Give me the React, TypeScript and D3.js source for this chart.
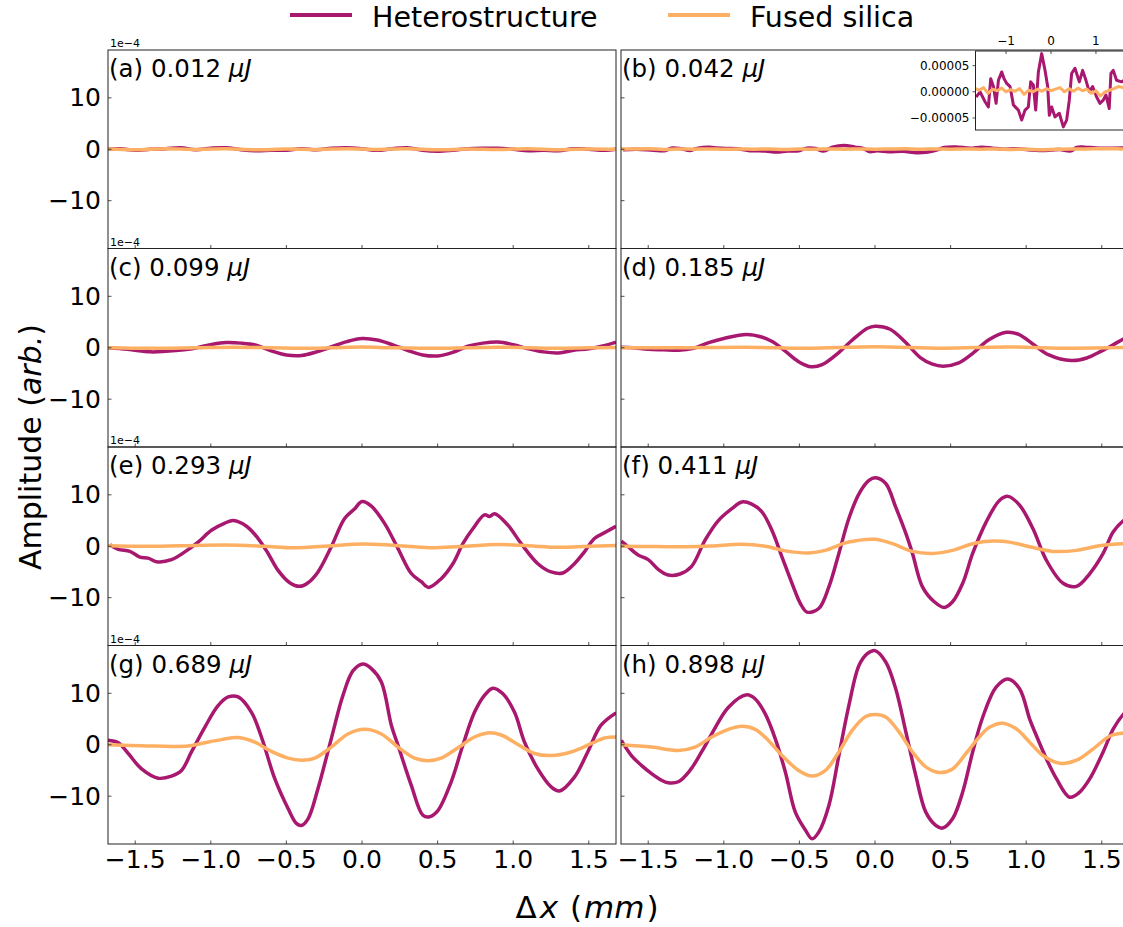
import { useEffect, useRef } from 'react';
import * as d3 from 'd3';

type Pt = [number, number];

// pulse energies / panel labels
const panelLabels = ['(a) 0.012 ', '(b) 0.042 ', '(c) 0.099 ', '(d) 0.185 ', '(e) 0.293 ', '(f) 0.411 ', '(g) 0.689 ', '(h) 0.898 '];
const xTicks = [-1.5, -1.0, -0.5, 0.0, 0.5, 1.0, 1.5];
const yTicks = [-10, 0, 10];
const insetXTicks = [-1, 0, 1];
const insetYTicks = [-0.5, 0, 0.5];

// amplitudes in units of 1e-4
const hetA: Pt[] = [[-1.68, 0], [-1.6, 0.1], [-1.5, -0.2], [-1.4, 0.0], [-1.3, 0.1], [-1.2, 0.3], [-1.1, -0.1], [-1.0, 0.2], [-0.9, 0.3], [-0.8, -0.1], [-0.7, -0.3], [-0.6, -0.2], [-0.5, -0.2], [-0.4, 0.1], [-0.3, -0.1], [-0.2, 0.2], [-0.1, 0.3], [0.0, 0.1], [0.1, -0.2], [0.2, 0.1], [0.3, 0.3], [0.4, -0.2], [0.5, -0.4], [0.6, -0.2], [0.7, 0.1], [0.8, 0.2], [0.9, 0.2], [1.0, 0.0], [1.1, -0.3], [1.2, -0.2], [1.3, -0.3], [1.4, 0.1], [1.5, 0.0], [1.6, -0.2], [1.68, 0.0]];
const fsA: Pt[] = [[-1.68, 0.05], [-1.5, -0.1], [-1.3, 0.1], [-1.1, -0.05], [-0.9, 0.1], [-0.7, -0.1], [-0.5, 0.05], [-0.3, -0.05], [-0.1, 0.1], [0.1, -0.05], [0.3, 0.1], [0.5, -0.1], [0.7, 0.05], [0.9, -0.05], [1.1, 0.1], [1.3, -0.1], [1.5, 0.05], [1.68, 0.0]];

const hetB: Pt[] = [[-1.667, -0.1], [-1.578, 0.0], [-1.467, -0.19], [-1.393, -0.29], [-1.341, 0.25], [-1.281, 0.1], [-1.222, -0.22], [-1.17, 0.22], [-1.096, 0.38], [-1.044, 0.25], [-0.985, 0.16], [-0.911, 0.1], [-0.837, -0.25], [-0.726, -0.35], [-0.652, -0.54], [-0.578, -0.35], [-0.504, -0.29], [-0.452, 0.19], [-0.393, 0.13], [-0.341, -0.35], [-0.281, 0.38], [-0.207, 0.73], [-0.133, 0.41], [-0.074, 0.1], [-0.037, -0.45], [0.015, -0.29], [0.089, -0.48], [0.185, -0.41], [0.274, -0.67], [0.348, -0.54], [0.407, -0.16], [0.459, 0.35], [0.533, 0.45], [0.63, 0.19], [0.704, 0.41], [0.778, 0.22], [0.852, 0.0], [0.926, 0.1], [1.015, -0.1], [1.089, -0.22], [1.163, -0.16], [1.222, -0.06], [1.296, -0.32], [1.333, 0.35], [1.385, 0.41], [1.459, 0.22], [1.57, 0.19], [1.68, 0.25]];
const fsB: Pt[] = [[-1.68, 0.06], [-1.6, 0.03], [-1.5, 0.08], [-1.4, -0.03], [-1.3, 0.05], [-1.2, 0.02], [-1.1, 0.07], [-1.0, 0.0], [-0.9, 0.04], [-0.8, 0.01], [-0.7, 0.06], [-0.6, -0.05], [-0.5, 0.03], [-0.4, 0.0], [-0.3, 0.05], [-0.2, 0.01], [-0.1, 0.06], [0.0, 0.02], [0.1, 0.05], [0.2, 0.08], [0.3, 0.0], [0.4, 0.06], [0.5, 0.01], [0.6, 0.07], [0.7, 0.02], [0.8, 0.05], [0.9, -0.03], [1.0, 0.02], [1.1, -0.08], [1.2, 0.0], [1.3, 0.03], [1.4, 0.06], [1.5, 0.1], [1.6, 0.08], [1.68, 0.05]];

const hetC: Pt[] = [[-1.68, 0], [-1.55, -0.3], [-1.4, -0.8], [-1.3, -0.7], [-1.15, -0.3], [-1.0, 0.6], [-0.9, 1.0], [-0.8, 0.9], [-0.7, 0.5], [-0.6, -0.6], [-0.5, -1.4], [-0.4, -1.5], [-0.3, -0.8], [-0.2, 0.2], [-0.1, 1.2], [0.0, 1.8], [0.1, 1.5], [0.2, 0.6], [0.3, -0.5], [0.4, -1.4], [0.5, -1.6], [0.6, -0.9], [0.7, 0.3], [0.8, 0.9], [0.9, 1.1], [1.0, 0.6], [1.1, -0.2], [1.2, -0.8], [1.3, -1.0], [1.4, -0.5], [1.5, -0.2], [1.6, 0.4], [1.68, 1.1]];
const fsC: Pt[] = [[-1.68, 0.0], [-1.4, -0.1], [-1.1, 0.0], [-0.85, 0.1], [-0.6, 0.0], [-0.4, -0.1], [-0.2, 0.0], [0.0, 0.15], [0.2, 0.0], [0.45, -0.1], [0.7, 0.0], [0.9, 0.1], [1.1, 0.0], [1.3, -0.1], [1.5, 0.0], [1.68, 0.05]];

const hetD: Pt[] = [[-1.68, 0.1], [-1.6, 0.0], [-1.5, -0.3], [-1.4, -0.4], [-1.3, -0.5], [-1.2, -0.1], [-1.1, 1.0], [-1.0, 1.8], [-0.85, 2.6], [-0.75, 2.1], [-0.68, 1.2], [-0.6, -0.5], [-0.5, -2.8], [-0.42, -3.7], [-0.35, -3.3], [-0.25, -1.2], [-0.15, 1.5], [-0.05, 3.8], [0.0, 4.2], [0.1, 3.6], [0.2, 1.1], [0.3, -1.9], [0.38, -3.2], [0.45, -3.6], [0.55, -3.0], [0.65, -1.0], [0.75, 1.5], [0.87, 3.0], [0.95, 2.6], [1.05, 0.6], [1.15, -1.4], [1.3, -2.5], [1.4, -2.0], [1.5, -0.6], [1.6, 1.0], [1.68, 2.3]];
const fsD: Pt[] = [[-1.68, 0.0], [-1.3, 0.0], [-0.85, 0.1], [-0.45, -0.1], [0.0, 0.2], [0.45, -0.1], [0.87, 0.15], [1.3, -0.1], [1.68, 0.05]];

const hetE: Pt[] = [[-1.667, 0.3], [-1.612, -0.6], [-1.535, -1.0], [-1.469, -2.1], [-1.414, -2.3], [-1.359, -3.0], [-1.26, -2.6], [-1.172, -1.1], [-1.084, 0.8], [-0.996, 3.1], [-0.907, 4.5], [-0.852, 5.0], [-0.764, 3.9], [-0.687, 1.5], [-0.621, -1.4], [-0.555, -4.7], [-0.478, -7.1], [-0.412, -7.8], [-0.357, -7.1], [-0.291, -5.0], [-0.203, -0.1], [-0.115, 5.4], [-0.048, 7.3], [0.0, 8.7], [0.062, 7.8], [0.15, 4.4], [0.238, -0.45], [0.326, -5.3], [0.392, -6.9], [0.441, -8.0], [0.524, -6.3], [0.601, -3.4], [0.667, 0.5], [0.733, 3.4], [0.81, 6.1], [0.844, 5.8], [0.877, 6.3], [0.965, 4.1], [1.053, 0.5], [1.163, -3.4], [1.251, -5.0], [1.328, -5.2], [1.405, -3.4], [1.471, -1.1], [1.537, 1.5], [1.615, 2.8], [1.68, 3.9]];
const fsE: Pt[] = [[-1.68, 0.1], [-1.45, 0.0], [-1.2, 0.1], [-0.9, 0.25], [-0.65, 0.0], [-0.45, -0.3], [-0.2, 0.1], [0.0, 0.45], [0.2, 0.2], [0.45, -0.3], [0.65, -0.05], [0.9, 0.35], [1.1, 0.1], [1.3, -0.2], [1.5, 0.0], [1.68, 0.15]];

const hetF: Pt[] = [[-1.678, 1.0], [-1.633, -0.1], [-1.567, -1.7], [-1.5, -2.6], [-1.434, -4.5], [-1.368, -5.6], [-1.29, -5.4], [-1.213, -3.9], [-1.124, 1.2], [-1.036, 5.0], [-0.947, 7.3], [-0.881, 8.6], [-0.815, 8.2], [-0.748, 6.7], [-0.682, 3.1], [-0.615, -2.1], [-0.549, -7.2], [-0.494, -11.1], [-0.45, -12.8], [-0.372, -12.1], [-0.305, -7.9], [-0.239, -1.4], [-0.173, 5.4], [-0.106, 10.2], [-0.04, 12.8], [0.004, 13.3], [0.071, 12.2], [0.137, 7.6], [0.204, 2.5], [0.248, -1.4], [0.314, -7.9], [0.392, -10.8], [0.458, -11.9], [0.513, -10.8], [0.58, -7.2], [0.646, -1.4], [0.735, 4.7], [0.823, 8.9], [0.879, 9.7], [0.956, 8.0], [1.045, 3.4], [1.133, -2.7], [1.244, -7.2], [1.332, -7.8], [1.421, -5.3], [1.509, -1.4], [1.576, 2.8], [1.653, 5.2], [1.68, 5.6]];
const fsF: Pt[] = [[-1.68, 0.0], [-1.45, -0.05], [-1.257, -0.1], [-1.08, 0.05], [-0.881, 0.4], [-0.726, 0.0], [-0.593, -0.9], [-0.438, -1.3], [-0.328, -0.8], [-0.195, 0.65], [-0.062, 1.3], [0.004, 1.35], [0.115, 0.5], [0.248, -1.0], [0.381, -1.4], [0.513, -0.8], [0.646, 0.5], [0.779, 1.0], [0.89, 0.8], [1.023, -0.1], [1.178, -1.0], [1.332, -0.8], [1.487, 0.1], [1.653, 0.5], [1.68, 0.5]];

const hetG: Pt[] = [[-1.68, 0.9], [-1.612, 0.4], [-1.546, -1.7], [-1.458, -4.7], [-1.348, -6.5], [-1.26, -6.1], [-1.194, -5.0], [-1.128, -1.4], [-1.04, 3.4], [-0.952, 7.6], [-0.885, 9.3], [-0.819, 9.3], [-0.731, 6.3], [-0.665, 1.5], [-0.577, -6.6], [-0.489, -12.4], [-0.434, -15.3], [-0.401, -15.7], [-0.357, -14.4], [-0.291, -8.5], [-0.203, 1.2], [-0.126, 9.6], [-0.059, 14.4], [0.007, 15.7], [0.062, 14.8], [0.128, 12.2], [0.194, 3.8], [0.238, -0.1], [0.326, -7.9], [0.403, -13.7], [0.447, -14.0], [0.502, -12.8], [0.59, -7.2], [0.667, -0.1], [0.744, 6.3], [0.81, 9.6], [0.866, 11.0], [0.932, 9.9], [1.009, 6.3], [1.075, 0.5], [1.163, -4.7], [1.251, -8.2], [1.306, -9.0], [1.405, -6.3], [1.493, -1.4], [1.581, 3.8], [1.68, 6.2]];
const fsG: Pt[] = [[-1.68, 0.0], [-1.37, -0.25], [-1.15, -0.25], [-1.04, 0.4], [-0.93, 1.0], [-0.819, 1.4], [-0.709, 0.5], [-0.599, -1.3], [-0.489, -2.6], [-0.401, -3.0], [-0.313, -2.6], [-0.203, -0.45], [-0.093, 2.1], [0.018, 3.0], [0.128, 2.1], [0.238, -0.45], [0.348, -2.6], [0.436, -3.1], [0.524, -2.6], [0.634, -0.6], [0.744, 1.5], [0.833, 2.3], [0.921, 1.9], [1.031, 0.05], [1.141, -1.7], [1.251, -2.1], [1.383, -1.4], [1.515, 0.2], [1.604, 1.3], [1.68, 1.5]];

const hetH: Pt[] = [[-1.678, 0.84], [-1.611, -2.1], [-1.545, -4.0], [-1.478, -5.6], [-1.412, -6.9], [-1.368, -7.4], [-1.301, -7.2], [-1.224, -5.0], [-1.147, -1.4], [-1.08, 2.1], [-0.969, 7.3], [-0.848, 9.7], [-0.792, 8.9], [-0.726, 6.0], [-0.66, 1.2], [-0.593, -5.3], [-0.527, -13.1], [-0.46, -16.6], [-0.416, -18.3], [-0.372, -17.0], [-0.305, -11.8], [-0.239, -2.1], [-0.173, 7.6], [-0.106, 15.4], [-0.051, 17.7], [0.0, 18.3], [0.071, 16.1], [0.137, 10.9], [0.204, 2.5], [0.27, -6.0], [0.336, -13.1], [0.403, -15.7], [0.447, -16.2], [0.513, -14.4], [0.58, -9.2], [0.646, -1.4], [0.713, 5.4], [0.801, 11.2], [0.879, 12.8], [0.956, 10.9], [1.023, 5.0], [1.067, 1.8], [1.133, -2.7], [1.2, -6.6], [1.288, -10.2], [1.354, -9.2], [1.421, -6.6], [1.509, -1.4], [1.576, 3.1], [1.653, 6.3], [1.68, 7.0]];
const fsH: Pt[] = [[-1.678, 0.0], [-1.478, -0.45], [-1.301, -1.1], [-1.19, -0.45], [-1.08, 1.5], [-0.969, 3.0], [-0.881, 3.6], [-0.792, 3.0], [-0.704, 0.8], [-0.615, -2.1], [-0.505, -5.0], [-0.416, -6.1], [-0.328, -5.0], [-0.239, -1.4], [-0.151, 2.8], [-0.062, 5.5], [0.0, 5.9], [0.071, 5.4], [0.159, 2.5], [0.248, -1.4], [0.336, -4.3], [0.425, -5.4], [0.513, -4.7], [0.602, -1.7], [0.69, 1.5], [0.757, 3.4], [0.845, 4.2], [0.934, 3.1], [1.023, 0.5], [1.111, -2.1], [1.222, -3.6], [1.333, -3.0], [1.443, -0.8], [1.554, 1.7], [1.653, 2.3], [1.68, 2.4]];

const hetSeries = [hetA, hetB, hetC, hetD, hetE, hetF, hetG, hetH];
const fsSeries = [fsA, fsB, fsC, fsD, fsE, fsF, fsG, fsH];

const HET = '#a8186f';
const FS = '#fdb063';

export default function App() {
  const svgRef = useRef<SVGSVGElement>(null);

  useEffect(() => {
    document.body.style.margin = '0';
    const svg = d3.select(svgRef.current);
    svg.selectAll('*').remove();

    const font = 'DejaVu Sans, sans-serif';
    const colX = [108, 621];
    const rowY = [50, 248.5, 447, 645.5];
    const pw = 508;
    const ph = 198.5;

    const x = d3.scaleLinear().domain([-1.68, 1.68]).range([0, pw]);
    const y = d3.scaleLinear().domain([-19.3, 19.3]).range([ph, 0]);

    const line = d3.line<Pt>()
      .x(d => x(d[0]))
      .y(d => y(d[1]))
      .curve(d3.curveCatmullRom.alpha(0.5));

    const defs = svg.append('defs');
    defs.append('clipPath').attr('id', 'clip')
      .append('rect').attr('width', pw).attr('height', ph);

    for (let i = 0; i < 8; i++) {
      const col = i % 2;
      const row = Math.floor(i / 2);
      const g = svg.append('g').attr('transform', `translate(${colX[col]},${rowY[row]})`);

      const plot = g.append('g').attr('clip-path', 'url(#clip)');
      plot.append('path').datum(hetSeries[i])
        .attr('fill', 'none').attr('stroke', HET).attr('stroke-width', 3.5)
        .attr('stroke-linejoin', 'round').attr('d', line);
      plot.append('path').datum(fsSeries[i])
        .attr('fill', 'none').attr('stroke', FS).attr('stroke-width', 3.5)
        .attr('stroke-linejoin', 'round').attr('d', line);

      // frame
      g.append('rect').attr('width', pw).attr('height', ph)
        .attr('fill', 'none').attr('stroke', '#222').attr('stroke-width', 1);

      // inward ticks
      g.selectAll('.xt').data(xTicks).enter().append('line')
        .attr('x1', d => x(d)).attr('x2', d => x(d))
        .attr('y1', ph).attr('y2', ph - 3.5)
        .attr('stroke', '#222').attr('stroke-width', 0.8);
      g.selectAll('.yt').data(yTicks).enter().append('line')
        .attr('x1', 0).attr('x2', 3.5)
        .attr('y1', d => y(d)).attr('y2', d => y(d))
        .attr('stroke', '#222').attr('stroke-width', 0.8);

      if (col === 0) {
        g.selectAll('.yl').data(yTicks).enter().append('text')
          .attr('x', -7).attr('y', d => y(d))
          .attr('text-anchor', 'end').attr('dominant-baseline', 'central')
          .style('font-family', font).style('font-size', '25px')
          .text(d => (d < 0 ? '\u2212' + Math.abs(d) : String(d)));
        g.append('text').attr('x', 2).attr('y', -3)
          .style('font-family', font).style('font-size', '11px')
          .text('1e\u22124');
      }
      if (row === 3) {
        g.selectAll('.xl').data(xTicks).enter().append('text')
          .attr('x', d => x(d)).attr('y', ph + 15)
          .attr('text-anchor', 'middle').attr('dominant-baseline', 'central')
          .style('font-family', font).style('font-size', '25px')
          .text(d => (d < 0 ? '\u2212' + Math.abs(d).toFixed(1) : d.toFixed(1)));
      }

      const lab = g.append('text').attr('x', 1).attr('y', 27)
        .style('font-family', font).style('font-size', '24.5px');
      lab.append('tspan').text(panelLabels[i]);
      lab.append('tspan').style('font-style', 'italic').text('\u03bcJ');
    }

    // inset in panel (b)
    const ix0 = 975.5, iy0 = 51, iw = 151, ih = 79;
    const ixs = d3.scaleLinear().domain([-1.68, 1.68]).range([0, iw]);
    const iys = d3.scaleLinear().domain([-0.73, 0.78]).range([ih, 0]);
    const ig = svg.append('g').attr('transform', `translate(${ix0},${iy0})`);
    defs.append('clipPath').attr('id', 'iclip')
      .append('rect').attr('width', iw).attr('height', ih);
    ig.append('rect').attr('width', iw).attr('height', ih).attr('fill', 'white');
    const iline = d3.line<Pt>().x(d => ixs(d[0])).y(d => iys(d[1]));
    const ip = ig.append('g').attr('clip-path', 'url(#iclip)');
    ip.append('path').datum(hetB).attr('fill', 'none').attr('stroke', HET)
      .attr('stroke-width', 3).attr('stroke-linejoin', 'round').attr('d', iline);
    ip.append('path').datum(fsB).attr('fill', 'none').attr('stroke', FS)
      .attr('stroke-width', 3).attr('stroke-linejoin', 'round').attr('d', iline);
    ig.append('rect').attr('width', iw).attr('height', ih)
      .attr('fill', 'none').attr('stroke', '#222').attr('stroke-width', 1);
    ig.selectAll('.ixt').data(insetXTicks).enter().append('line')
      .attr('x1', d => ixs(d)).attr('x2', d => ixs(d)).attr('y1', 0).attr('y2', 3)
      .attr('stroke', '#222').attr('stroke-width', 0.8);
    ig.selectAll('.ixl').data(insetXTicks).enter().append('text')
      .attr('x', d => ixs(d)).attr('y', -6).attr('text-anchor', 'middle')
      .style('font-family', font).style('font-size', '12px')
      .text(d => (d < 0 ? '\u2212' + Math.abs(d) : String(d)));
    ig.selectAll('.iyt').data(insetYTicks).enter().append('line')
      .attr('x1', -3).attr('x2', 0).attr('y1', d => iys(d)).attr('y2', d => iys(d))
      .attr('stroke', '#222').attr('stroke-width', 0.8);
    ig.selectAll('.iyl').data(insetYTicks).enter().append('text')
      .attr('x', -6).attr('y', d => iys(d)).attr('text-anchor', 'end')
      .attr('dominant-baseline', 'central')
      .style('font-family', font).style('font-size', '12px')
      .text(d => (d < 0 ? '\u2212' : '') + Math.abs(d * 1e-4).toFixed(5));

    // legend
    const leg = [
      { label: 'Heterostructure', color: HET, x: 290 },
      { label: 'Fused silica', color: FS, x: 668 },
    ];
    leg.forEach(l => {
      svg.append('line').attr('x1', l.x).attr('x2', l.x + 62).attr('y1', 15).attr('y2', 15)
        .attr('stroke', l.color).attr('stroke-width', 4);
      svg.append('text').attr('x', l.x + 82).attr('y', 26.5)
        .style('font-family', font).style('font-size', '28.5px')
        .text(l.label);
    });

    // axis labels
    const yl = svg.append('text')
      .attr('transform', 'translate(30,447) rotate(-90)')
      .attr('text-anchor', 'middle').attr('dominant-baseline', 'central')
      .style('font-family', font).style('font-size', '30px');
    yl.append('tspan').text('Amplitude (');
    yl.append('tspan').style('font-style', 'italic').text('arb.');
    yl.append('tspan').text(')');

    const xl = svg.append('text')
      .attr('x', 587).attr('y', 907)
      .attr('text-anchor', 'middle').attr('dominant-baseline', 'central')
      .style('font-family', font).style('font-size', '31px');
    xl.append('tspan').text('\u0394');
    xl.append('tspan').attr('dx', 3).style('font-style', 'italic').text('x');
    xl.append('tspan').attr('dx', 2).text(' (');
    xl.append('tspan').attr('dx', 2).style('font-style', 'italic').text('mm');
    xl.append('tspan').attr('dx', 2).text(')');
  }, []);

  return (
    <svg ref={svgRef} width={1123} height={927}
      style={{ display: 'block', background: 'white', fontFamily: 'DejaVu Sans' }} />
  );
}
